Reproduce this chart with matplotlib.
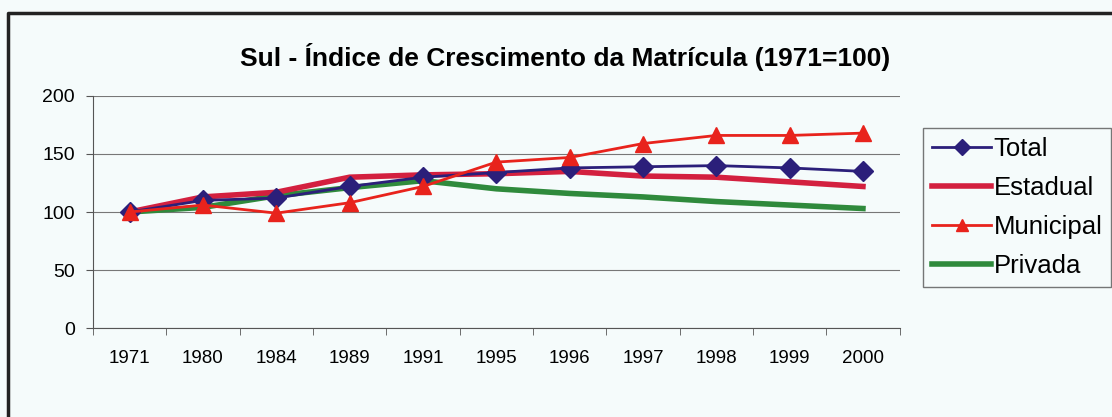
import matplotlib.pyplot as plt
from matplotlib.lines import Line2D

# Data (index, 1971 = 100)
years = ['1971', '1980', '1984', '1989', '1991', '1995', '1996', '1997', '1998', '1999', '2000']
total = [100, 110, 112, 122, 130, 134, 138, 139, 140, 138, 135]
estadual = [100, 113, 117, 130, 132, 133, 135, 131, 130, 126, 122]
municipal = [100, 106, 99, 108, 122, 143, 147, 159, 166, 166, 168]
privada = [100, 104, 114, 121, 127, 120, 116, 113, 109, 106, 103]

bg = '#f5fbfb'
plt.rcParams['font.family'] = ['Liberation Sans', 'DejaVu Sans']

fig = plt.figure(figsize=(11.12, 4.17), dpi=100, facecolor=bg)
ax = fig.add_axes([0.0836, 0.2134, 0.7254, 0.5564], facecolor=bg)

# outer chart frame (only top and left edges fall inside the picture)
fig.lines.append(Line2D([0.0075, 0.0075, 1.0], [0.0, 0.968, 0.968], transform=fig.transFigure,
                        color='#222222', linewidth=2.5))

x = list(range(len(years)))
ax.plot(x, total, color='#2b1f7a', lw=2, marker='D', markersize=10, label='Total', zorder=4)
ax.plot(x, estadual, color='#d3203f', lw=4, label='Estadual', zorder=3)
ax.plot(x, municipal, color='#e8231c', lw=2, marker='^', markersize=11, label='Municipal', zorder=5)
ax.plot(x, privada, color='#2f8a3c', lw=4, label='Privada', zorder=2)

ax.set_xlim(-0.5, len(years) - 0.5)
ax.set_ylim(0, 200)
ax.set_yticks([0, 50, 100, 150, 200])
ax.set_xticks(x)
ax.set_xticklabels(years)
ax.tick_params(axis='x', length=0, labelsize=13.5, pad=16)
ax.tick_params(axis='y', length=5, labelsize=14, color='#555555', pad=8)
ax.set_xticks([i - 0.5 for i in range(len(years) + 1)], minor=True)
ax.tick_params(axis='x', which='minor', length=5, color='#555555')
ax.yaxis.grid(True, color='#777777', lw=0.8)
ax.set_axisbelow(True)
for s in ['top', 'right']:
    ax.spines[s].set_visible(False)
ax.spines['left'].set_color('#555555')
ax.spines['bottom'].set_color('#555555')

fig.text(0.508, 0.863, 'Sul - Índice de Crescimento da Matrícula (1971=100)',
         ha='center', va='center', fontsize=19, fontweight='bold')

leg = fig.legend(loc='upper left', bbox_to_anchor=(0.83, 0.693), fontsize=18.5,
                 frameon=True, fancybox=False, edgecolor='#555555', facecolor=bg,
                 handlelength=2.3, handletextpad=0.1, labelspacing=0.58, borderpad=0.35,
                 borderaxespad=0, markerscale=0.8)

fig.savefig('out.png', dpi=100, facecolor=bg)
